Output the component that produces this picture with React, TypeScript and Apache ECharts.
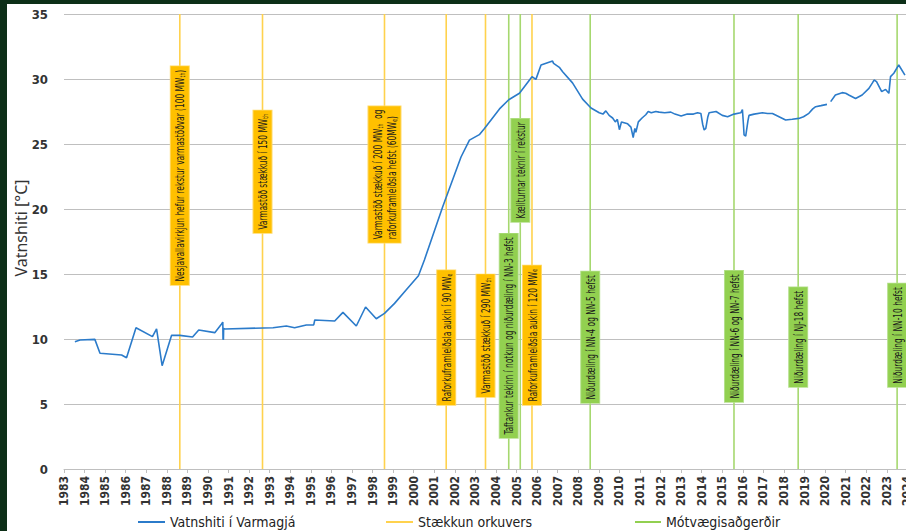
import React, { useEffect, useRef } from "react";
import * as echarts from "echarts";

// ---- Data ----
const tempYears: number[] = [
  1983.53, 1983.78, 1984.5, 1984.75, 1985.8, 1986.04, 1986.5, 1987.3, 1987.5, 1987.77,
  1988.23, 1988.63, 1989.25, 1989.55, 1990.33, 1990.65, 1990.72, 1990.73, 1990.75, 1990.76,
  1990.82, 1993.16, 1993.81, 1994.21, 1994.78, 1995.14, 1995.19, 1996.16, 1996.56, 1997.21,
  1997.66, 1998.18, 1998.58, 1999.07, 1999.63, 2000.23, 2000.52, 2001.41, 2002.3, 2002.71,
  2003.19, 2003.44, 2004.17, 2004.62, 2005.14, 2005.75, 2005.94, 2006.19, 2006.75, 2006.8,
  2007.08, 2007.24, 2007.72, 2008.21, 2008.62, 2009.02, 2009.2, 2009.34, 2009.5, 2009.67,
  2009.8, 2009.9, 2010.0, 2010.1, 2010.4, 2010.56, 2010.67, 2010.75, 2010.8, 2010.92,
  2011.1, 2011.28, 2011.4, 2011.55, 2011.77, 2011.93, 2012.2, 2012.5, 2012.7, 2013.0,
  2013.3, 2013.6, 2013.8, 2013.96, 2014.05, 2014.12, 2014.2, 2014.3, 2014.36, 2014.7,
  2015.0, 2015.26, 2015.57, 2015.9, 2015.98, 2016.03, 2016.06, 2016.14, 2016.25, 2016.3,
  2016.55, 2016.95, 2017.2, 2017.44, 2017.76, 2018.08, 2018.4, 2018.72, 2018.95, 2019.21,
  2019.4, 2019.54, 2019.8, 2020.09, 2020.18, 2020.27, 2020.5, 2020.83, 2021.0, 2021.15,
  2021.48, 2021.8, 2022.13, 2022.3, 2022.38, 2022.5, 2022.75, 2022.94, 2023.1, 2023.18,
  2023.34, 2023.58, 2023.88,
];
const tempValues: (number | null)[] = [
  9.79, 9.92, 9.97, 8.9, 8.77, 8.56, 10.87, 10.18, 10.77, 7.95,
  10.28, 10.28, 10.15, 10.69, 10.49, 11.13, 11.3, 10.0, 9.95, 10.8,
  10.77, 10.87, 11.0, 10.87, 11.08, 11.08, 11.46, 11.38, 12.05, 11.0,
  12.46, 11.56, 11.97, 12.74, 13.77, 14.87, 16.08, 20.18, 24.0, 25.3,
  25.72, 26.2, 27.7, 28.4, 28.9, 30.18, 29.97, 31.08, 31.38, 31.2,
  30.9, 30.56, 29.7, 28.45, 27.77, 27.4, 27.3, 27.55, 27.2, 27.0,
  26.7, 26.9, 26.1, 26.7, 26.55, 26.3, 25.5, 26.2, 25.9, 26.7,
  27.0, 27.25, 27.5, 27.4, 27.5, 27.45, 27.4, 27.45, 27.3, 27.15,
  27.3, 27.3, 27.4, 27.35, 26.5, 26.08, 26.2, 27.1, 27.4, 27.5,
  27.2, 27.1, 27.3, 27.4, 27.65, 26.5, 25.7, 25.6, 26.8, 27.2,
  27.3, 27.4, 27.35, 27.35, 27.1, 26.85, 26.9, 26.97, 27.1, 27.36,
  27.7, 27.87, 27.95, 28.05, null, 28.26, 28.77, 28.95, 28.9, 28.77,
  28.5, 28.77, 29.28, 29.7, 29.92, 29.8, 29.03, 29.2, 28.9, 30.18,
  30.44, 31.08, 30.3,
];

const orangeYears: number[] = [1988.63, 1992.65, 1998.58, 2001.58, 2003.49, 2005.75];
const orangeLabelBase: number[] = [14.15, 18.15, 17.4, 4.92, 5.54, 4.92];
const orangeLabels: string[] = [
  "Nesjavallavirkjun hefur rekstur varmastöðvar (100 MW{s|th})",
  "Varmastöð stækkuð í 150 MW{s|th}",
  "Varmastöð stækkuð í 200 MW{s|th}  og\nraforkuframleiðsla hefst (60MW{s|e})",
  "Raforkuframleiðsla aukin í 90 MW{s|e}",
  "Varmastöð stækkuð í 290 MW{s|th}",
  "Raforkuframleiðsla aukin í 120 MW{s|e}",
];

const greenYears: number[] = [2004.62, 2005.18, 2008.58, 2015.57, 2018.69, 2023.5];
const greenLabelBase: number[] = [2.38, 19.0, 5.08, 5.15, 6.3, 6.3];
const greenLabels: string[] = [
  "Taftankur tekinn í notkun og niðurdæling í NN-3 hefst",
  "Kæliturnar teknir í rekstur",
  "Niðurdæling í NN-4 og NN-5 hefst",
  "Niðurdæling í NN-6 og NN-7 hefst",
  "Niðurdæling í NJ-18 hefst",
  "Niðurdæling í NN-10 hefst",
];

const SERIES_TEMP = "Vatnshiti í Varmagjá";
const SERIES_ORANGE = "Stækkun orkuvers";
const SERIES_GREEN = "Mótvægisaðgerðir";

const NARROW = "'DejaVu Sans Condensed', 'Liberation Sans Narrow', sans-serif";

function makeRender(labels: string[], lineColor: string, boxColor: string, boxBorder: string) {
  return (params: any, api: any) => {
    const i = params.dataIndex;
    const x = api.value(0);
    const base = api.value(1);
    const top = api.coord([x, 35]);
    const bot = api.coord([x, 0]);
    const b = api.coord([x, base]);
    return {
      type: "group",
      children: [
        {
          type: "line",
          shape: { x1: top[0], y1: top[1], x2: bot[0], y2: bot[1] },
          style: { stroke: lineColor, lineWidth: 1.6 },
        },
        {
          type: "text",
          x: b[0],
          y: b[1],
          rotation: Math.PI / 2,
          scaleX: 0.69,
          style: {
            text: labels[i],
            fill: "#1a1a1a",
            fontFamily: NARROW,
            fontSize: 12,
            lineHeight: 14,
            align: "left",
            verticalAlign: "middle",
            backgroundColor: boxColor,
            borderColor: boxBorder,
            borderWidth: 1,
            padding: [2, 5, 2, 5],
            rich: {
              s: { fontFamily: NARROW, fontSize: 7.5, lineHeight: 14, fill: "#1a1a1a", verticalAlign: "bottom" },
            },
          },
        },
      ],
    };
  };
}

export default function App() {
  const ref = useRef<HTMLDivElement>(null);
  useEffect(() => {
    if (!ref.current) return;
    const chart = echarts.init(ref.current, undefined, { renderer: "svg" });
    const tempData = tempYears.map((y, i) => [y, tempValues[i] === null ? "-" : tempValues[i]]);
    const orangeData = orangeYears.map((y, i) => [y, orangeLabelBase[i]]);
    const greenData = greenYears.map((y, i) => [y, greenLabelBase[i]]);
    const legendText = { fontFamily: NARROW, fontSize: 14, color: "#222" };
    chart.setOption({
      animation: false,
      backgroundColor: "#ffffff",
      grid: { left: 64, top: 14, width: 843.4, height: 455 },
      xAxis: {
        type: "value",
        min: 1983,
        max: 2024,
        interval: 1,
        axisLine: { show: true, lineStyle: { color: "#bfbfbf", width: 1 } },
        axisTick: { show: true, length: 4, lineStyle: { color: "#bfbfbf" } },
        splitLine: { show: false },
        axisLabel: {
          rotate: 90,
          margin: 7,
          color: "#333",
          fontFamily: NARROW,
          fontWeight: "bold",
          fontSize: 12,
          formatter: (v: number) => String(v),
        },
      },
      yAxis: {
        type: "value",
        min: 0,
        max: 35,
        interval: 5,
        axisLine: { show: false },
        axisTick: { show: false },
        splitLine: { lineStyle: { color: "#bfbfbf", width: 1 } },
        axisLabel: {
          margin: 16,
          color: "#333",
          fontFamily: NARROW,
          fontWeight: "bold",
          fontSize: 13,
        },
      },
      legend: [
        {
          data: [{ name: SERIES_TEMP, icon: "rect" }],
          left: 133,
          top: 510,
          itemWidth: 27,
          itemHeight: 2,
          textStyle: legendText,
        },
        {
          data: [{ name: SERIES_ORANGE, icon: "rect" }],
          left: 381,
          top: 510,
          itemWidth: 27,
          itemHeight: 2,
          textStyle: legendText,
        },
        {
          data: [{ name: SERIES_GREEN, icon: "rect" }],
          left: 630,
          top: 510,
          itemWidth: 26,
          itemHeight: 2,
          textStyle: legendText,
        },
      ],
      graphic: [
        { type: "rect", shape: { x: 0, y: 0, width: 7, height: 531 }, style: { fill: "#0d2f18" }, silent: true },
        { type: "rect", shape: { x: 0, y: 0, width: 930, height: 4 }, style: { fill: "#0d2f18" }, silent: true },
        {
          type: "text",
          x: 21,
          y: 228,
          rotation: Math.PI / 2,
          silent: true,
          style: {
            text: "Vatnshiti [°C]",
            fill: "#333",
            fontFamily: "'Noto Sans', sans-serif",
            fontSize: 16,
            align: "center",
            verticalAlign: "middle",
          },
        },
      ],
      series: [
        {
          name: SERIES_GREEN,
          type: "custom",
          coordinateSystem: "cartesian2d",
          encode: { x: 0, y: 1 },
          itemStyle: { color: "#92d050" },
          data: greenData,
          z: 3,
          renderItem: makeRender(greenLabels, "#a6d86f", "#92d050", "#b5e08c"),
        },
        {
          name: SERIES_ORANGE,
          type: "custom",
          coordinateSystem: "cartesian2d",
          encode: { x: 0, y: 1 },
          itemStyle: { color: "#ffd24d" },
          data: orangeData,
          z: 4,
          renderItem: makeRender(orangeLabels, "#ffd24d", "#ffc000", "#ffd966"),
        },
        {
          name: SERIES_TEMP,
          type: "line",
          data: tempData,
          symbol: "none",
          showSymbol: false,
          connectNulls: false,
          z: 5,
          color: "#2b7bca",
          itemStyle: { color: "#2b7bca" },
          lineStyle: { color: "#2b7bca", width: 1.6 },
        },
      ],
    });
    return () => chart.dispose();
  }, []);
  return (
    <div style={{ position: "fixed", left: 0, top: 0, width: 906, height: 531, overflow: "hidden", background: "#fff" }}>
      <div ref={ref} style={{ width: 930, height: 531 }} />
    </div>
  );
}
